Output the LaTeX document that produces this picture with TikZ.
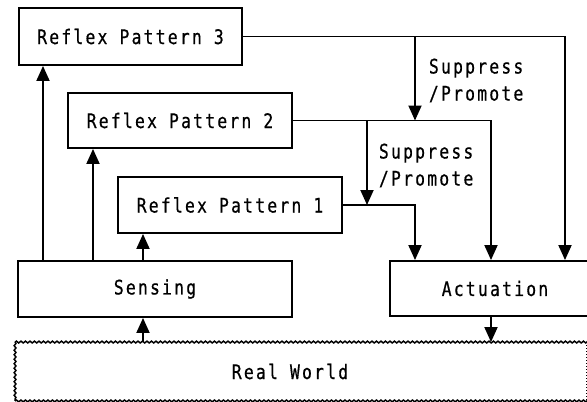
\documentclass[tikz,border=0pt]{standalone}
\usepackage{fontspec}
\newfontfamily\dmono[FakeStretch=0.82, LetterSpace=11, FakeBold=0.6]{DejaVu Sans Mono}
\usetikzlibrary{arrows.meta,decorations.pathmorphing}
\begin{document}
\begin{tikzpicture}[x=1pt,y=-1pt,
  font=\dmono\fontsize{20}{27}\selectfont,
  line width=1.9pt,
  box/.style={draw, line width=1.9pt, inner sep=0pt},
  arr/.style={-{Triangle[width=13pt,length=15pt]}},
  lbl/.style={align=left, anchor=base west, inner sep=0pt}]
\useasboundingbox (0,0) rectangle (587,402);
\clip (0,0) rectangle (587,402);
% boxes
\node[box, minimum width=223pt, minimum height=57pt] (rp3) at (130.5,36.5) {Reflex Pattern 3};
\node[box, minimum width=224pt, minimum height=55pt] (rp2) at (180,120.5) {Reflex Pattern 2};
\node[box, minimum width=224pt, minimum height=56pt] (rp1) at (230,205) {Reflex Pattern 1};
\node[box, minimum width=274pt, minimum height=56pt] (sens) at (155,289) {Sensing};
\node[box, minimum width=210pt, minimum height=55pt] (act) at (495,288.5) {Actuation};
\node[inner sep=0pt, minimum width=548pt, minimum height=57pt] (rw) at (290,371.5) {Real World};
% real world border
\draw[line width=1.5pt, decorate, decoration={snake, amplitude=0.9pt, segment length=4.5pt}]
  (rw.north west) -- (rw.north -| act.east);
\draw[line width=1.5pt, decorate, decoration={snake, amplitude=0.9pt, segment length=4.5pt}]
  (rw.north west) -- (rw.south west);
\draw[line width=1.5pt, decorate, decoration={snake, amplitude=0.9pt, segment length=4.5pt}]
  (rw.south west) -- (rw.south -| act.east);
\coordinate (rwr) at (586,0);
\draw[dotted, line width=1pt] (rwr |- rw.north) -- (rwr |- rw.south);
% x positions of connectors
\coordinate (xa) at (43,0);
\coordinate (xb) at (93,0);
\coordinate (xc) at (143,0);
\coordinate (xg) at (367,0);
\coordinate (xd) at (415,0);
\coordinate (xe) at (491,0);
\coordinate (xf) at (565,0);
% sensing paths
\draw[arr] (xa |- sens.north) -- (xa |- rp3.south);
\draw[arr] (xb |- sens.north) -- (xb |- rp2.south);
\draw[arr] (xc |- sens.north) -- (xc |- rp1.south);
\draw[arr] (xc |- rw.north) -- (xc |- sens.south);
\draw[arr] (xe |- act.south) -- (xe |- rw.north);
% actuation paths
\draw[arr] (rp3.east) -| (xf |- act.north);
\draw[arr] (rp2.east) -| (xe |- act.north);
\draw[arr] (rp1.east) -| (xd |- act.north);
\draw[arr] (xd |- rp3.east) -- (xd |- rp2.east);
\draw[arr] (xg |- rp2.east) -- (xg |- rp1.east);
% labels
\node[lbl] (sp1) at (428,100.5) {Suppress\\/Promote};
\node[lbl] (sp2) at (378,185.5) {Suppress\\/Promote};
\end{tikzpicture}
\end{document}
